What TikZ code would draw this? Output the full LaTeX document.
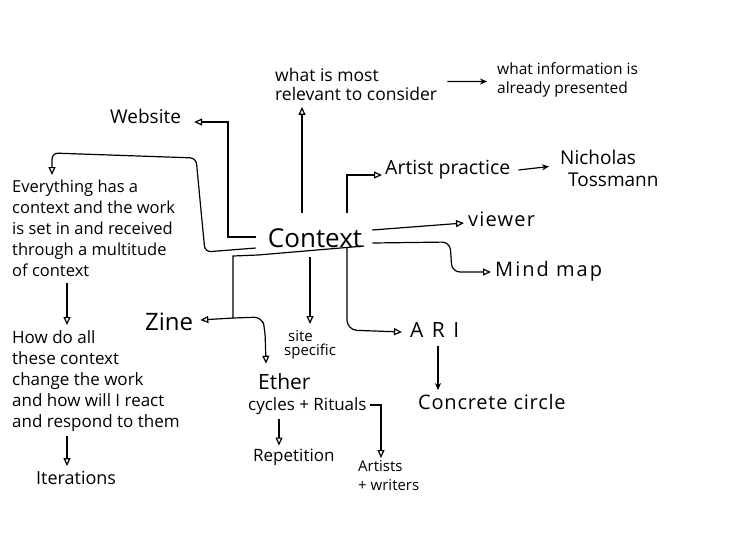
\documentclass[tikz,border=0pt]{standalone}
\usepackage{fontspec}
\setmainfont{Open Sans}
\usetikzlibrary{arrows.meta,calc}
\begin{document}
\begin{tikzpicture}[x=1pt,y=-1pt,
  txt/.style={inner sep=0pt, align=left, font=\fontsize{16}{21}\selectfont},
  big/.style={txt, font=\fontsize{19}{22}\selectfont},
  arr/.style={-{Triangle[open,length=8pt,width=7pt]}, line width=1.2pt},
  arrl/.style={-{Stealth[length=7pt,width=6pt]}, line width=1.2pt},
  ln/.style={line width=1.2pt}]
\useasboundingbox[fill=white] (0,0) rectangle (749,539);
% nodes
\node[txt, font=\fontsize{26}{30}\selectfont] (ctx) at (315,238) {Context};
\node[big, anchor=west] (web) at (110,116) {Website};
\node[txt, anchor=north west, font=\fontsize{17.5}{19}\selectfont] (rel) at (275,68) {what is most\\relevant to consider};
\node[txt, font=\fontsize{15.5}{19}\selectfont, anchor=north west] (info) at (497,62) {what information is\\already presented};
\node[txt, font=\fontsize{19.5}{22}\selectfont, anchor=west] (artp) at (385,170) {Artist practice};
\node[big, anchor=north west] (nich) at (560,150) {Nicholas\\\hspace*{8pt}Tossmann};
\node[txt, font=\fontsize{16.5}{21}\selectfont, anchor=north west] (every) at (12,180) {Everything has a\\context and the work\\is set in and received\\through a multitude\\of context};
\node[txt, font=\fontsize{20}{24}\selectfont\addfontfeature{LetterSpace=6}, anchor=west] (view) at (468,219) {viewer};
\node[txt, font=\fontsize{20}{24}\selectfont\addfontfeature{LetterSpace=10}, anchor=west] (mind) at (495,271) {Mind map};
\node[txt, font=\fontsize{24}{28}\selectfont, anchor=west] (zine) at (145,322) {Zine};
\node[txt, font=\fontsize{15}{14}\selectfont, anchor=north west] (site) at (284,330) {\hspace*{4pt}site\\specific};
\node[txt, font=\fontsize{21}{24}\selectfont\addfontfeature{LetterSpace=40}, anchor=west] (ari) at (410,330) {ARI};
\node[txt, font=\fontsize{21}{24}\selectfont, anchor=west] (ether) at (258,382) {Ether};
\node[txt, font=\fontsize{17}{21}\selectfont, anchor=west] (cyc) at (248,406) {cycles + Rituals};
\node[txt, font=\fontsize{17}{21}\selectfont, anchor=west] (rep) at (253,457) {Repetition};
\node[txt, font=\fontsize{15}{19}\selectfont, anchor=north west] (art) at (358,460) {Artists\\+ writers};
\node[txt, font=\fontsize{20}{24}\selectfont\addfontfeature{LetterSpace=4}, anchor=west] (conc) at (418,402) {Concrete circle};
\node[txt, font=\fontsize{17}{21}\selectfont, anchor=north west] (how) at (12,330) {How do all\\these context\\change the work\\and how will I react\\and respond to them};
\node[txt, font=\fontsize{18}{21}\selectfont, anchor=west] (iter) at (36,478) {Iterations};
% junction coordinates
\coordinate (ulL) at (258,255);
\coordinate (ulR) at (364,246);
\coordinate (zj) at (233,318);
\coordinate (sj) at (310,257);
\coordinate (uj) at (302,213);
% connectors
\draw[ln] (ulL) -- (ulR);
\draw[arr] ($(ctx.west)+(-12,-1)$) -- (228,237) -- (228,122) -- ($(web.east)+(13,6)$);
\draw[arr, rounded corners=6pt] ($(ctx.west)+(-12,10)$) -- (205,252) -- (196,158) -- (52,153) -- ($(every.north west)+(40,-5)$);
\draw[arr] (uj) -- ($(rel.south west)+(27,6)$);
\draw[arr] (347,213) -- (347,175) -- ($(artp.west)+(-3,5)$);
\draw[arrl] ($(rel.east)+(10,-3)$) -- ($(info.west)+(-10,2)$);
\draw[arrl] ($(artp.east)+(8,0)$) -- ($(nich.west)+(-11,-2)$);
\draw[arr] ($(ctx.east)+(10,-8)$) -- ($(view.west)+(-4,4)$);
\draw[arr, rounded corners=8pt] ($(ctx.east)+(10,5)$) -- (450,242) -- (452,272) -- ($(mind.west)+(-4,1)$);
\draw[ln] (ulL) -- (233,256) -- (zj);
\draw[arr] (zj) -- ($(zine.east)+(7,-2)$);
\draw[arr, rounded corners=8pt] (zj) -- (262,317) -- (265,330) -- ($(ether.north west)+(8,-10)$);
\draw[arr] (sj) -- ($(sj |- site.north)+(0,-6)$);
\draw[arr, rounded corners=10pt] (347,247) -- (347,330) -- ($(ari.west)+(-8,2)$);
\draw[arrl] ($(ari.south west)+(28,8)$) -- ($(conc.north west)+(20,-4)$);
\draw[arr] ($(cyc.south west)+(31,4)$) -- ($(rep.north west)+(26,-3)$);
\draw[arr] ($(cyc.east)+(3,-1)$) -| ($(art.north west)+(23,-2)$);
\draw[arr] ($(every.south west)+(55,6)$) -- ($(how.north west)+(55,-5)$);
\draw[arr] ($(how.south west)+(55,5)$) -- ($(iter.north west)+(31,-5)$);
\end{tikzpicture}
\end{document}
